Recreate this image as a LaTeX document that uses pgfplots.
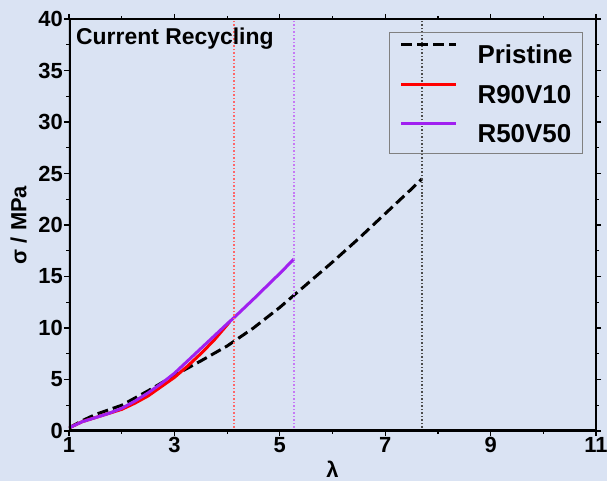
\documentclass[border=0pt]{standalone}
\usepackage{pgfplots}
\pgfplotsset{compat=1.18}
\usepackage{fontspec}
\setmainfont{Liberation Sans}
\definecolor{bg}{HTML}{DAE3F3}
\definecolor{rpurple}{HTML}{A020F0}

\begin{document}
\begin{tikzpicture}
  \fill[bg] (-69bp,-50bp) rectangle (538bp,431bp);
  \begin{axis}[
      scale only axis,
      width=527bp, height=412bp,
      xmin=1, xmax=11, ymin=0, ymax=40,
      xtick={1,3,...,11}, ytick={0,5,...,40},
      minor tick num=1,
      tick align=outside,
      major tick length=5bp, minor tick length=2.5bp,
      tick style={line width=1.2bp, black},
      axis background/.style={fill=bg},
      font=\fontsize{22}{24}\selectfont\bfseries,
      /pgf/number format/assume math mode=true,
      xticklabel style={inner ysep=1bp},
      yticklabel style={inner xsep=1bp},
      xlabel={λ}, ylabel={σ / MPa},
      xlabel style={font=\fontsize{22}{24}\selectfont\bfseries, yshift=-4bp},
      ylabel style={font=\fontsize{22}{24}\selectfont\bfseries, yshift=7bp},
      legend cell align=left,
      legend style={
        at={(1,1)}, anchor=north east, xshift=-13bp, yshift=-13bp,
        draw=gray, fill=none, line width=0.8bp,
        inner xsep=10bp, inner ysep=11bp,
        font=\fontsize{26}{28}\selectfont\bfseries,
        nodes={inner sep=0pt, text height=19bp, text depth=0bp},
        row sep=19bp, column sep=20bp,
      },
      legend image code/.code={\draw[#1] (0bp,9.5bp) -- (55bp,9.5bp);},
    ]
    \addplot[black, line width=3bp, dash pattern=on 11bp off 5bp] coordinates {
      (1,0.3) (1.25,1.0) (1.5,1.6) (2,2.5) (2.5,3.9) (3,5.4) (3.5,6.8)
      (4,8.25) (4.5,10.0) (5,12.0) (5.25,13.1) (5.5,14.2)
      (6,16.4) (6.5,18.7) (7,21.1) (7.5,23.5) (7.7,24.5)
    };
    \addplot[red, line width=3bp] coordinates {
      (1,0.3) (1.25,0.9) (1.5,1.3) (1.75,1.7) (2,2.1) (2.25,2.7) (2.5,3.4)
      (2.75,4.3) (3,5.2) (3.25,6.3) (3.5,7.5) (3.75,8.8) (4.05,10.6)
    };
    \addplot[rpurple, line width=3bp] coordinates {
      (1,0.3) (1.25,0.9) (1.5,1.3) (1.75,1.7) (2,2.2) (2.25,2.9) (2.5,3.7)
      (2.75,4.6) (3,5.6) (3.25,6.8) (3.5,8.0) (3.75,9.2) (4,10.4) (4.13,11.0)
      (4.5,12.8) (5,15.3) (5.27,16.7)
    };
    \addplot[red!60, line width=1.5bp, dotted, forget plot] coordinates {(4.13,0) (4.13,40)};
    \addplot[rpurple!60, line width=1.5bp, dotted, forget plot] coordinates {(5.27,0) (5.27,40)};
    \addplot[black!70, line width=1.5bp, dotted, forget plot] coordinates {(7.7,0) (7.7,40)};
    \legend{Pristine, R90V10, R50V50}
    \draw[line width=3bp, line cap=rect] (rel axis cs:0,1) -- (rel axis cs:1,1) -- (rel axis cs:1,0);
    \draw[line width=4bp, line cap=rect] (rel axis cs:0,1) -- (rel axis cs:0,0) -- (rel axis cs:1,0);
    \node[anchor=north west, inner sep=0pt, font=\fontsize{23}{25}\selectfont\bfseries]
      at ([xshift=7bp, yshift=-9bp]rel axis cs:0,1) {Current Recycling};
  \end{axis}
  \pgfresetboundingbox
  \useasboundingbox (-69bp,-50bp) rectangle (538bp,431bp);
\end{tikzpicture}
\end{document}
